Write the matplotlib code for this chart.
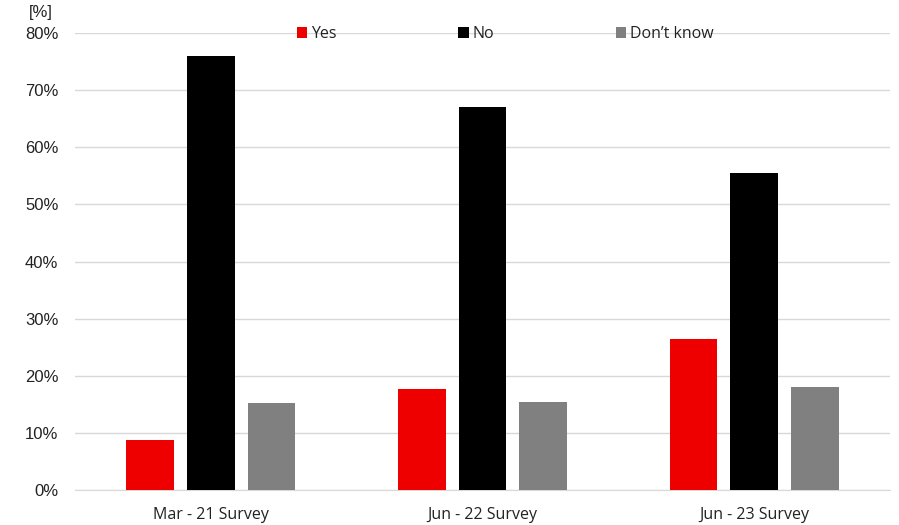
import matplotlib
matplotlib.use("Agg")
import matplotlib.pyplot as plt
import numpy as np

categories = ["Mar - 21 Survey", "Jun - 22 Survey", "Jun - 23 Survey"]
series_names = ["Yes", "No", "Don\u2019t know"]
yes_vals = [8.7, 17.6, 26.5]
no_vals = [76.0, 67.0, 55.5]
dk_vals = [15.2, 15.4, 18.0]
colors = ["#ee0000", "#000000", "#808080"]
yticks = [0, 10, 20, 30, 40, 50, 60, 70, 80]

fig = plt.figure(figsize=(8.99, 5.25), dpi=100)
ax = fig.add_axes([75/899, 35/525, 815/899, 457/525])

x = np.arange(len(categories))
offsets = [-0.223, 0.0, 0.223]
width = 0.175
handles = []
for vals, off, col, name in zip([yes_vals, no_vals, dk_vals], offsets, colors, series_names):
    b = ax.bar(x + off, vals, width, color=col, label=name, zorder=3)
    handles.append(b)

ax.set_xlim(-0.5, 2.5)
ax.set_ylim(0, 80)
ax.set_yticks(yticks)
ax.set_yticklabels([f"{v}%" for v in yticks], fontfamily="Liberation Sans", fontsize=12, color="#222222")
ax.set_xticks(x)
ax.set_xticklabels(categories, fontfamily="Open Sans", fontsize=11.5, color="#222222")
ax.tick_params(axis="both", length=0)
ax.tick_params(axis="x", pad=12)
ax.tick_params(axis="y", pad=12)
ax.yaxis.grid(True, color="#d9d9d9", linewidth=1, zorder=0)
for s in ["top", "right", "left"]:
    ax.spines[s].set_visible(False)
ax.spines["bottom"].set_color("#d9d9d9")
ax.spines["bottom"].set_zorder(1)

fig.text(29/899, 1 - 12/525, "[%]", fontfamily="Liberation Sans", fontsize=12,
         color="#222222", va="center", ha="left")

leg = fig.legend(handles=handles, labels=series_names, loc="center left",
                 bbox_to_anchor=(297/899, 1 - 34/525), ncol=3, frameon=False,
                 handlelength=0.65, handleheight=0.65, handletextpad=0.25,
                 columnspacing=7.6, prop={"family": "Open Sans", "size": 11.5},
                 borderpad=0, borderaxespad=0)
for t in leg.get_texts():
    t.set_color("#222222")

fig.savefig("out.png", dpi=100)
